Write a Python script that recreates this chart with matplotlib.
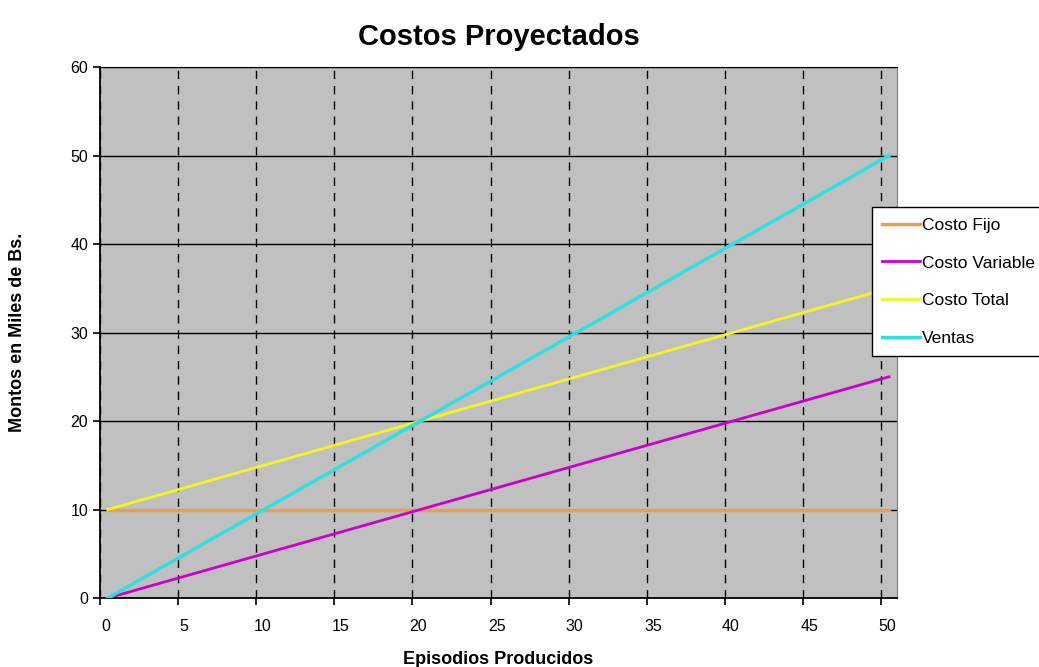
import matplotlib.pyplot as plt
import matplotlib.transforms as mtransforms
import numpy as np

# datos
episodios = [0, 10, 20, 30, 40, 50]
costo_fijo = [10, 10, 10, 10, 10, 10]
costo_variable = [0, 5, 10, 15, 20, 25]
costo_total = [10, 15, 20, 25, 30, 35]
ventas = [0, 10, 20, 30, 40, 50]
xticks = list(range(0, 51, 5))
yticks = list(range(0, 61, 10))

plt.rcParams['font.family'] = ['Liberation Sans', 'DejaVu Sans']

fig = plt.figure(figsize=(10.39, 6.67), dpi=100)
ax = fig.add_axes([0.0962, 0.1034, 0.767, 0.7961])
ax.set_facecolor('#c0c0c0')

# puntos en el centro de la categoria (estilo Excel)
x = np.array(episodios) + 0.5
ax.plot(x, costo_fijo, color='#e8a050', lw=2.5, label='Costo Fijo', zorder=3)
ax.plot(x, costo_variable, color='#cc00cc', lw=2, label='Costo Variable', zorder=3)
ax.plot(x, costo_total, color='#f5f520', lw=2, label='Costo Total', zorder=3)
ax.plot(x, ventas, color='#30e0e0', lw=2.5, label='Ventas', zorder=3)

ax.set_xlim(0, 51)
ax.set_ylim(0, 60)
ax.set_xticks(xticks)
ax.set_yticks(yticks)
ax.tick_params(axis='both', labelsize=11.5, colors='black', direction='out', length=5, width=1.2)
ax.tick_params(axis='x', pad=10)

# etiquetas del eje x un poco a la derecha, como en el original
offset = mtransforms.ScaledTranslation(6 / 100, 0, fig.dpi_scale_trans)
for lbl in ax.get_xticklabels():
    lbl.set_transform(lbl.get_transform() + offset)

ax.grid(axis='y', color='black', lw=1, ls='-', zorder=1)
ax.grid(axis='x', color='black', lw=1, ls=(0, (6, 5)), zorder=1)
ax.set_axisbelow(True)

ax.spines['left'].set_color('black')
ax.spines['left'].set_linewidth(1.3)
ax.spines['bottom'].set_color('black')
ax.spines['bottom'].set_linewidth(1.3)
ax.spines['top'].set_color('black')
ax.spines['right'].set_color('#808080')

ax.set_title('Costos Proyectados', fontsize=21, fontweight='bold', pad=16)
ax.set_xlabel('Episodios Producidos', fontsize=13, fontweight='bold', labelpad=12)
ax.set_ylabel('Montos en Miles de Bs.', fontsize=13, fontweight='bold', labelpad=32)

leg = ax.legend(loc='upper left', bbox_to_anchor=(0.9686, 0.736), fontsize=12.5,
                frameon=True, fancybox=False, edgecolor='black', framealpha=1,
                handlelength=2.2, handletextpad=0.1, labelspacing=1.3,
                borderpad=0.6, borderaxespad=0)
leg.get_frame().set_linewidth(1)

fig.savefig('out.png', dpi=100)
